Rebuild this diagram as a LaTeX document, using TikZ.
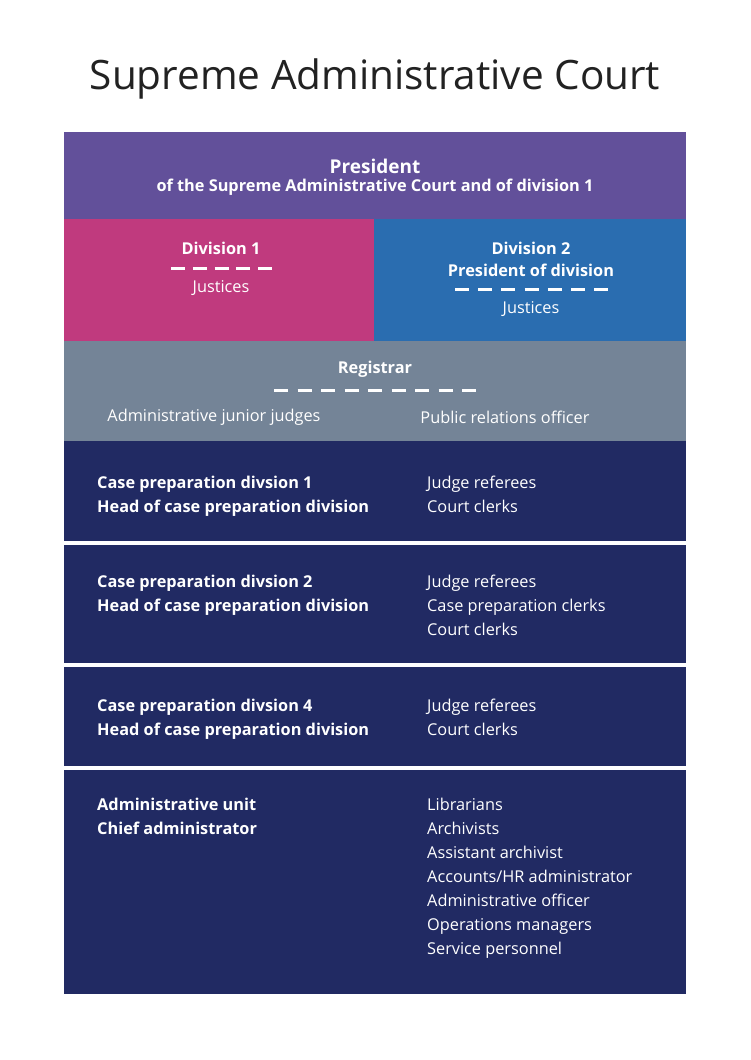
\documentclass[tikz,border=0pt]{standalone}
\usepackage{fontspec}
\setmainfont{Open Sans}
\usepackage{xcolor}
\usetikzlibrary{positioning}

\definecolor{presviolet}{HTML}{62509A}
\definecolor{divmagenta}{HTML}{C03A7E}
\definecolor{divblue}{HTML}{2A6DB0}
\definecolor{reggray}{HTML}{748497}
\definecolor{unitnavy}{HTML}{212A63}
\definecolor{titlegray}{HTML}{222222}

\begin{document}
\begin{tikzpicture}[x=1pt,y=-1pt]

\tikzset{
    txt/.style = {text=white, font=\fontsize{16.3}{24}\selectfont, inner sep=0pt},
    bold/.style = {txt, font=\fontsize{16.3}{24}\selectfont\bfseries},
    col/.style = {txt, anchor=north west, align=left},
    colb/.style = {col, font=\fontsize{16.3}{24}\selectfont\bfseries},
    sep/.style = {white, line width=3pt, dash pattern=on 14pt off #1pt},
    sep/.default = 8
}

\useasboundingbox (0,0) rectangle (750,1060);

% panels
\fill[presviolet] (64,132) rectangle (686,219);
\fill[divmagenta] (64,219) rectangle (374,341);
\fill[divblue] (374,219) rectangle (686,341);
\fill[reggray] (64,341) rectangle (686,441);
\fill[unitnavy] (64,441) rectangle (686,541);
\fill[unitnavy] (64,545) rectangle (686,663);
\fill[unitnavy] (64,667) rectangle (686,766);
\fill[unitnavy] (64,770) rectangle (686,994);

\node[text=titlegray] (title) at (375,79) {\fontsize{40.5}{50}\selectfont Supreme Administrative Court};

\node[bold, font=\fontsize{19}{24}\selectfont\bfseries] (pres) at (375,166) {President};
\node[bold] (presof) at (375,187) {of the Supreme Administrative Court and of division 1};

\node[bold] (div1) at (221,248) {Division 1};
\node[txt] (just1) at (221,288) {Justices};
\node[bold] (div2) at (531,248) {Division 2};
\node[bold] (div2p) at (531,270) {President of division};
\node[txt] (just2) at (531,309) {Justices};

\node[bold] (reg) at (375,369) {Registrar};
\node[txt] (junior) at (214,417) {Administrative junior judges};
\node[txt] (pro) at (505,417) {Public relations officer};

\draw[sep=7.75] (171,268) -- (272,268);
\draw[sep=9.2] (455,289) -- (608,289);
\draw[sep=9.5] (274,390) -- (476,390);

\node[colb] (cp1) at (97,476) {Case preparation divsion 1\\Head of case preparation division};
\node[col] (cp1r) at (427,476) {Judge referees\\Court clerks};
\node[colb] (cp2) at (97,575) {Case preparation divsion 2\\Head of case preparation division};
\node[col] (cp2r) at (427,575) {Judge referees\\Case preparation clerks\\Court clerks};
\node[colb] (cp4) at (97,699) {Case preparation divsion 4\\Head of case preparation division};
\node[col] (cp4r) at (427,699) {Judge referees\\Court clerks};
\node[colb] (adm) at (97,798) {Administrative unit\\Chief administrator};
\node[col] (admr) at (427,798) {Librarians\\Archivists\\Assistant archivist\\Accounts/HR administrator\\Administrative officer\\Operations managers\\Service personnel};

\end{tikzpicture}
\end{document}
